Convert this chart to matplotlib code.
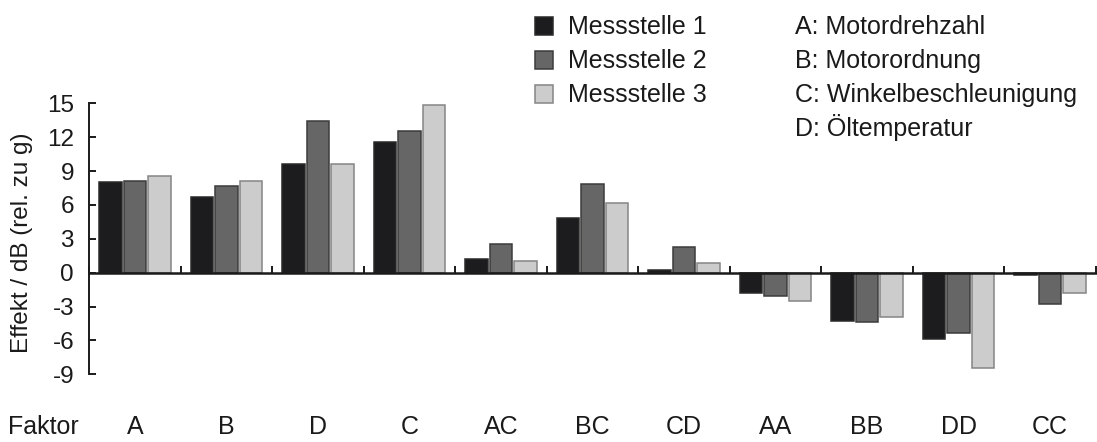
import matplotlib
matplotlib.use("Agg")
import matplotlib.pyplot as plt
import matplotlib.transforms as mtransforms
from matplotlib.patches import Rectangle
import numpy as np

plt.rcParams['font.family'] = ['Liberation Sans', 'DejaVu Sans']
plt.rcParams['axes.unicode_minus'] = False

factors = ["A", "B", "D", "C", "AC", "BC", "CD", "AA", "BB", "DD", "CC"]
series_names = ["Messstelle 1", "Messstelle 2", "Messstelle 3"]
messstelle_1 = [8.0, 6.7, 9.6, 11.6, 1.2, 4.85, 0.25, -1.8, -4.3, -5.9, -0.25]
messstelle_2 = [8.1, 7.7, 13.45, 12.55, 2.55, 7.85, 2.3, -2.05, -4.4, -5.35, -2.8]
messstelle_3 = [8.6, 8.1, 9.6, 14.85, 1.0, 6.15, 0.9, -2.55, -3.9, -8.4, -1.8]
factor_names = ["A: Motordrehzahl", "B: Motorordnung",
                "C: Winkelbeschleunigung", "D: Öltemperatur"]
y_ticks = [-9, -6, -3, 0, 3, 6, 9, 12, 15]

fills = ["#1c1b1d", "#666666", "#cccccc"]
edges = ["#2a2a2a", "#3c3c3c", "#858585"]
FS = 18
FS_TICK = 17.5
INK = "#1a1a1a"

W, H = 1097, 442
fig = plt.figure(figsize=(W / 100, H / 100), dpi=100)
ax = fig.add_axes([89.3 / W, 1 - 374.3 / H, (1095.8 - 89.3) / W, (374.3 - 103.3) / H])

x = np.arange(len(factors)) + 0.5
width = 0.244
step = 0.268
for i, vals in enumerate([messstelle_1, messstelle_2, messstelle_3]):
    ax.bar(x + (i - 1) * step, vals, width, color=fills[i], edgecolor=edges[i],
           linewidth=1.1, label=series_names[i], zorder=2)

ax.set_xlim(0, len(factors))
ax.set_ylim(-9, 15)
ax.set_yticks(y_ticks)
ax.set_yticklabels([str(t) for t in y_ticks])
ax.set_xticks(np.arange(len(factors) + 1))
ax.set_xticklabels([])

for s in ["top", "right"]:
    ax.spines[s].set_visible(False)
ax.spines["bottom"].set_position(("data", 0))
ax.spines["bottom"].set_linewidth(1.8)
ax.spines["bottom"].set_color(INK)
ax.spines["bottom"].set_zorder(3)
ax.spines["left"].set_linewidth(1.4)
ax.spines["left"].set_color(INK)
ax.tick_params(axis="y", direction="in", length=5, width=1.4, labelsize=FS_TICK, pad=11, colors=INK)
ax.tick_params(axis="x", direction="in", length=5, width=1.4, colors=INK)

fig.text(22.5 / W, 1 - 242.5 / H, "Effekt / dB (rel. zu g)", rotation=90,
         ha="center", va="center", fontsize=FS_TICK, color=INK)

# Factor labels below the plot
trans = mtransforms.blended_transform_factory(ax.transData, fig.transFigure)
for xi, name in zip(x, factors):
    ax.text(xi, 1 - 434 / H, name, transform=trans, ha="center", va="baseline",
            fontsize=FS, color=INK)
fig.text(8.5 / W, 1 - 434 / H, "Faktor", ha="left", va="baseline",
         fontsize=FS, color=INK)

# Series legend: swatches and names
for k in range(3):
    top = 17.3 + 34 * k
    fig.add_artist(Rectangle((535 / W, 1 - (top + 18) / H), 18 / W, 18 / H,
                             transform=fig.transFigure, facecolor=fills[k],
                             edgecolor=edges[k], linewidth=1.1))
    fig.text(568 / W, 1 - (34.3 + 34 * k) / H, series_names[k], ha="left",
             va="baseline", fontsize=FS, color=INK)

# Factor legend
for k, txt in enumerate(factor_names):
    fig.text(795 / W, 1 - (34.3 + 34 * k) / H, txt, ha="left", va="baseline",
             fontsize=FS, color=INK)

fig.savefig("out.png", dpi=100)
